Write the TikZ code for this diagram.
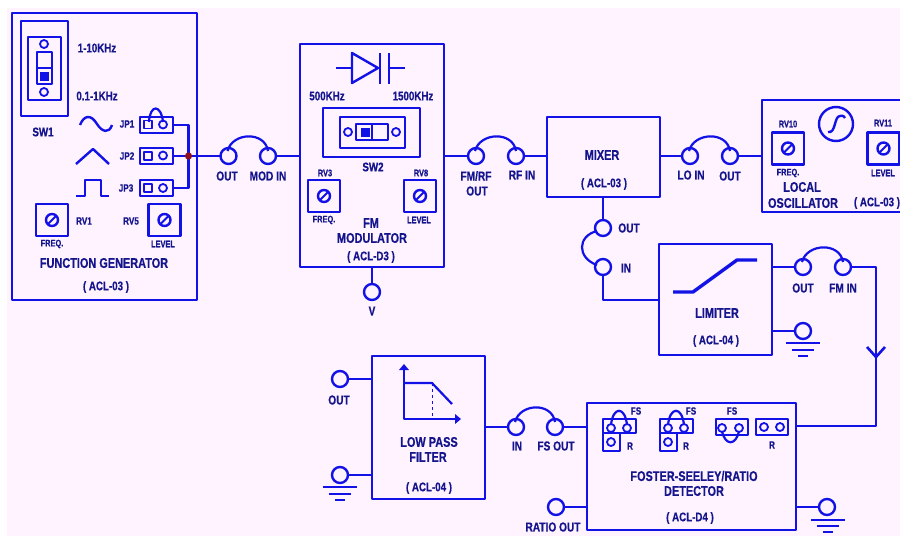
\documentclass[tikz,border=0pt]{standalone}
\usepackage{fontspec}
\setmainfont[FakeStretch=0.78,BoldFeatures={FakeBold=0.5}]{Liberation Sans}
\definecolor{bl}{HTML}{1212E6}
\definecolor{tx}{HTML}{14148C}
\definecolor{bgp}{HTML}{FFF3FF}
\definecolor{dotr}{HTML}{8C1020}
\newcommand\bx[6][blk]{\node[#1,minimum width={((#4)-(#2))*1pt},minimum height={((#5)-(#3))*1pt}] (#6) at ({((#2)+(#4))/2},{((#3)+(#5))/2}) {};}
\newcommand\T[4][lab]{\node[#1] (#2) at (#3) {#4};}
\newcommand\J[3][8pt]{\node[jack,minimum size=2*#1] (#2) at (#3) {};}
\newcommand\pin[2]{\node[pinc] (#1) at (#2) {};}
\newcommand\sq[2]{\node[sqp] (#1) at (#2) {};}
\newcommand\knob[3]{\bx{#2-16}{#3-16}{#2+16}{#3+16}{#1}\node[jack,minimum size=12pt,line width=2.4pt] (#1k) at (#2,#3) {};\draw[line width=2pt] ([shift={(-4,4)}]#1k.center) -- ([shift={(4,-4)}]#1k.center);}
\newcommand\arch[2]{\draw (#1.center) ++(-1,-5) .. controls +(5,-19) and ($(#2.center)+(-3,-25)$) .. ($(#2.center)+(0,-5)$);}
\newcommand\gnd[1]{\foreach \w/\d in {17/12,11/19,5/25}{\draw[line width=2pt] ([shift={(-\w,\d)}]#1.center) -- ([shift={(\w,\d)}]#1.center);}}
\usetikzlibrary{calc}
\tikzset{
 blk/.style={draw=bl,line width=2.4pt,inner sep=0pt,outer sep=0pt,rectangle},
 jack/.style={circle,draw=bl,line width=2.4pt,fill=bgp,inner sep=0pt,outer sep=0pt},
 pinc/.style={circle,draw=bl,line width=1.8pt,minimum size=8pt,inner sep=0pt,fill=bgp},
 sqp/.style={rectangle,draw=bl,line width=1.8pt,minimum size=8pt,inner sep=0pt,fill=bgp},
 lab/.style={text=tx,inner sep=0pt,font=\bfseries\fontsize{12.5}{12.5}\selectfont},
 big/.style={lab,font=\bfseries\fontsize{13}{13}\selectfont},
 ttl/.style={lab,font=\bfseries\fontsize{14}{14}\selectfont},
 mid/.style={lab,font=\bfseries\fontsize{10.5}{10.5}\selectfont},
 sm/.style={lab,font=\bfseries\fontsize{9.5}{9.5}\selectfont},
}
\begin{document}
\begin{tikzpicture}[x=1pt,y=-1pt,line width=2.2pt,draw=bl,line join=round]
\useasboundingbox (0,0) rectangle (900,536);
\fill[white] (0,0) rectangle (900,536);
\fill[bgp] (7,8) rectangle (900,536);
% Function generator
\bx{12}{13}{197}{300}{fg}
\bx{21}{21}{68}{116}{swa}
\bx{28}{37}{61}{100}{swb}
\pin{swp}{44,44} \pin{swq}{44,92}
\bx[blk,line width=1.6pt]{37}{52}{52}{84}{swc}
\draw[line width=1.6pt] (swc.west) -- (swc.east);
\node[rectangle,fill=bl,minimum size=9pt,inner sep=0pt] (swd) at (44.5,76.5) {};
\T{a1}{97,48}{1-10KHz}
\T{a2}{97,96}{0.1-1KHz}
\T{a3}{43,132}{SW1}
\draw[line width=2.4pt] (80,125) .. controls (84,115) and (91,114) .. (97,124) .. controls (102,132) and (109,134) .. (112,125);
\draw[line width=2.4pt] (76,164) -- (93,149) -- (109,164);
\draw (76,196) -- (85,196) -- (85,180) -- (101,180) -- (101,196) -- (109,196);
\T[mid]{a4}{127,124}{JP1} \T[mid]{a5}{127,156}{JP2} \T[mid]{a6}{126,188}{JP3}
\bx{140}{117}{173}{133}{jp1} \bx{140}{148}{173}{164}{jp2} \bx{140}{180}{173}{196}{jp3}
\sq{j1a}{148,124.5} \pin{j1b}{163,124.5}
\sq{j2a}{148,156} \pin{j2b}{163,155.5}
\sq{j3a}{148,188} \pin{j3b}{163,188}
\draw (149,122) .. controls (150,104) and (161,104) .. (163,122);
\coordinate (dot) at (188.5,156);
\draw (jp1.east) -- (dot |- jp1.east) -- (dot |- jp3.east) -- (jp3.east);
\J{oa}{228.5,156} \J{ob}{268,156}
\draw (jp2.east) -- (oa);
\fill[dotr] (dot) circle (3.6);
\T[mid]{a7}{84,221}{RV1} \T[mid]{a8}{131,221}{RV5}
\knob{r1}{52}{220} \knob{r5}{164.5}{220}
\T[sm]{a9}{52,244}{FREQ.} \T[sm]{a10}{163,244}{LEVEL}
\T[ttl]{a11}{104,263}{FUNCTION GENERATOR}
\T{a12}{106,287}{( ACL-03 )}
\T[big]{a13}{227,176}{OUT} \T[big]{a14}{268,176}{MOD IN}
\arch{oa}{ob}
% FM modulator
\bx{300}{44}{444}{267}{fm}
\draw (ob) -- (fm.west |- ob);
\draw (336,68) -- (352,68);
\draw[line width=2.4pt] (352,53) -- (352,83) -- (378,68) -- cycle;
\draw[line width=2.4pt] (380,53) -- (380,84) (389,53) -- (389,84);
\draw (389,68) -- (405,68);
\T{b1}{327,96}{500KHz} \T{b2}{413,96}{1500KHz}
\bx{323}{108}{420}{157}{sw2a}
\bx{340}{117}{405}{148}{sw2b}
\pin{s2p}{348,132} \pin{s2q}{396,132}
\bx[blk,line width=1.6pt]{356}{124}{388}{140}{sw2c}
\draw[line width=1.6pt] (sw2c.north) -- (sw2c.south);
\node[rectangle,fill=bl,minimum size=9pt,inner sep=0pt] (s2d) at (365,132.5) {};
\T{b3}{373,167}{SW2}
\T[sm]{b4}{325,173}{RV3} \T[sm]{b5}{421,173}{RV8}
\knob{r3}{324}{196} \knob{r8}{420}{196}
\T[sm]{b6}{324,220}{FREQ.} \T[sm]{b7}{419,220}{LEVEL}
\T[ttl]{b8}{371,223}{FM} \T[ttl]{b9}{372,238}{MODULATOR}
\T{b10}{371,257}{( ACL-D3 )}
\J{vj}{372,292}
\draw (fm.south -| vj) -- (vj);
\T[big]{b11}{372,311}{V}
\J{fo}{476,156} \J{ri}{516,156}
\draw (fm.east |- fo) -- (fo);
\arch{fo}{ri}
\T[big]{b12}{476,176}{FM/RF} \T[big]{b13}{477,191}{OUT} \T[big]{b14}{522,175}{RF IN}
% Mixer
\bx{547}{117}{660}{197}{mx}
\draw (ri) -- (mx.west |- ri);
\T[ttl]{c1}{602,155}{MIXER} \T{c2}{604,184}{( ACL-03 )}
\J{li}{690,156} \J{lo}{730,156}
\draw (mx.east |- li) -- (li);
\arch{li}{lo}
\T[big]{c3}{691,175}{LO IN} \T[big]{c4}{730,176}{OUT}
% Local oscillator
\draw[line width=2.6pt] (901,100) -- (762,100) -- (762,212) -- (901,212);
\coordinate (losc) at (762,156);
\draw (lo) -- (losc);
\T[sm]{c5}{788,124}{RV10} \T[sm]{c6}{883,123}{RV11}
\knob{r10}{788}{148.5} \knob{r11}{883.5}{148.5}
\node[jack,minimum size=34pt] (osc) at (836,124) {};
\draw[line width=2.4pt] (828,132) .. controls (836,134) and (834,116) .. (840,116) .. controls (843,115) and (845,117) .. (845,118);
\T[sm]{c7}{788,173}{FREQ.} \T[sm]{c8}{883,173}{LEVEL}
\T[ttl]{c9}{802,187}{LOCAL} \T[ttl]{c10}{803,203}{OSCILLATOR}
\T{c11}{877,203}{( ACL-03 )}
% Limiter
\J{mo}{603,228} \J{mn}{603,267}
\draw (mx.south -| mo) -- (mo);
\draw (597,231) .. controls (577,236) and (577,258) .. (597,265);
\T[big]{d1}{629,228}{OUT} \T[big]{d2}{626,268}{IN}
\bx{659}{244}{772}{355}{lim}
\draw (mn) |- (lim.west |- 0,300);
\draw[line width=3.4pt] (673,292) -- (693,292) -- (737,260) -- (757,260);
\T[ttl]{d3}{717,313}{LIMITER} \T{d4}{716,341}{( ACL-04 )}
\J{lm}{803,267} \J{fi}{843,267}
\draw (lim.east |- lm) -- (lm);
\arch{lm}{fi}
\T[big]{d5}{803,288}{OUT} \T[big]{d6}{843,288}{FM IN}
\J{lg}{803,331}
\draw (lim.east |- lg) -- (lg);
\gnd{lg}
% Foster-Seeley
\bx{587}{403}{796}{530}{fs}
\coordinate (vt) at (876,357);
\draw (fi) -- (vt |- fi) -- (vt |- 0,426) -- (fs.east |- 0,426);
\draw[line width=2.6pt] (867,347) -- (vt) -- (885,347);
\bx[blk,line width=1.8pt]{603}{419}{636}{433}{g1a} \bx[blk,line width=1.8pt]{603}{433}{620}{451}{g1b}
\pin{g1p}{611,428} \pin{g1q}{627,428} \pin{g1r}{611,442}
\draw (611,425) .. controls (613,406) and (625,406) .. (627,425);
\T[mid]{e1}{636,411}{FS} \T[mid]{e2}{630,446}{R}
\bx[blk,line width=1.8pt]{660}{419}{693}{433}{g2a} \bx[blk,line width=1.8pt]{660}{433}{677}{451}{g2b}
\pin{g2p}{668,428} \pin{g2q}{684,428} \pin{g2r}{668,442}
\draw (668,425) .. controls (670,406) and (682,406) .. (684,425);
\T[mid]{e3}{691,411}{FS} \T[mid]{e4}{686,446}{R}
\bx[blk,line width=1.8pt]{716}{419}{748}{435}{g3}
\pin{g3p}{722,428} \pin{g3q}{739,428}
\draw (722,431) .. controls (725,446) and (736,446) .. (739,431);
\T[mid]{e5}{732,411}{FS}
\bx[blk,line width=1.8pt]{756}{419}{788}{435}{g4}
\pin{g4p}{764,427} \pin{g4q}{780,427}
\T[mid]{e6}{772,445}{R}
\T[ttl]{e7}{694,476}{FOSTER-SEELEY/RATIO} \T[ttl]{e8}{694,491}{DETECTOR}
\T{e9}{690,518}{( ACL-D4 )}
\J{ro}{556,507}
\draw (ro) -- (fs.west |- ro);
\T[big]{e10}{553,527}{RATIO OUT}
\J{fg2}{827,507}
\draw (fs.east |- fg2) -- (fg2);
\foreach \w/\d in {17/13,11/19,5/25}{\draw[line width=2pt] ([shift={(-\w+1,\d)}]fg2.center) -- ([shift={(\w+1,\d)}]fg2.center);}
% LPF
\bx{372}{356}{485}{499}{lp}
\J{lpi}{516,427} \J{fso}{555,427}
\draw (lp.east |- lpi) -- (lpi);
\draw (fso) -- (fs.west |- fso);
\arch{lpi}{fso}
\T[big]{f1}{517,446}{IN} \T[big]{f2}{556,446}{FS OUT}
\J{lpo}{340,379} \J{lpg}{340,475}
\draw (lpo) -- (lp.west |- lpo);
\draw (lpg) -- (lp.west |- lpg);
\gnd{lpg}
\T[big]{f3}{339,400}{OUT}
\draw (404,368) -- (404,419) -- (458,419);
\fill[bl] (404,364) -- (399,370) -- (409,370) -- cycle;
\fill[bl] (461,419) -- (455,414) -- (455,424) -- cycle;
\draw (404,383) -- (432,383) -- (452,404);
\draw[line width=1pt,dashed] (432,383) -- (432,419);
\T[ttl]{f4}{429,442}{LOW PASS} \T[ttl]{f5}{428,457}{FILTER}
\T{f6}{429,488}{( ACL-04 )}
\end{tikzpicture}
\end{document}
